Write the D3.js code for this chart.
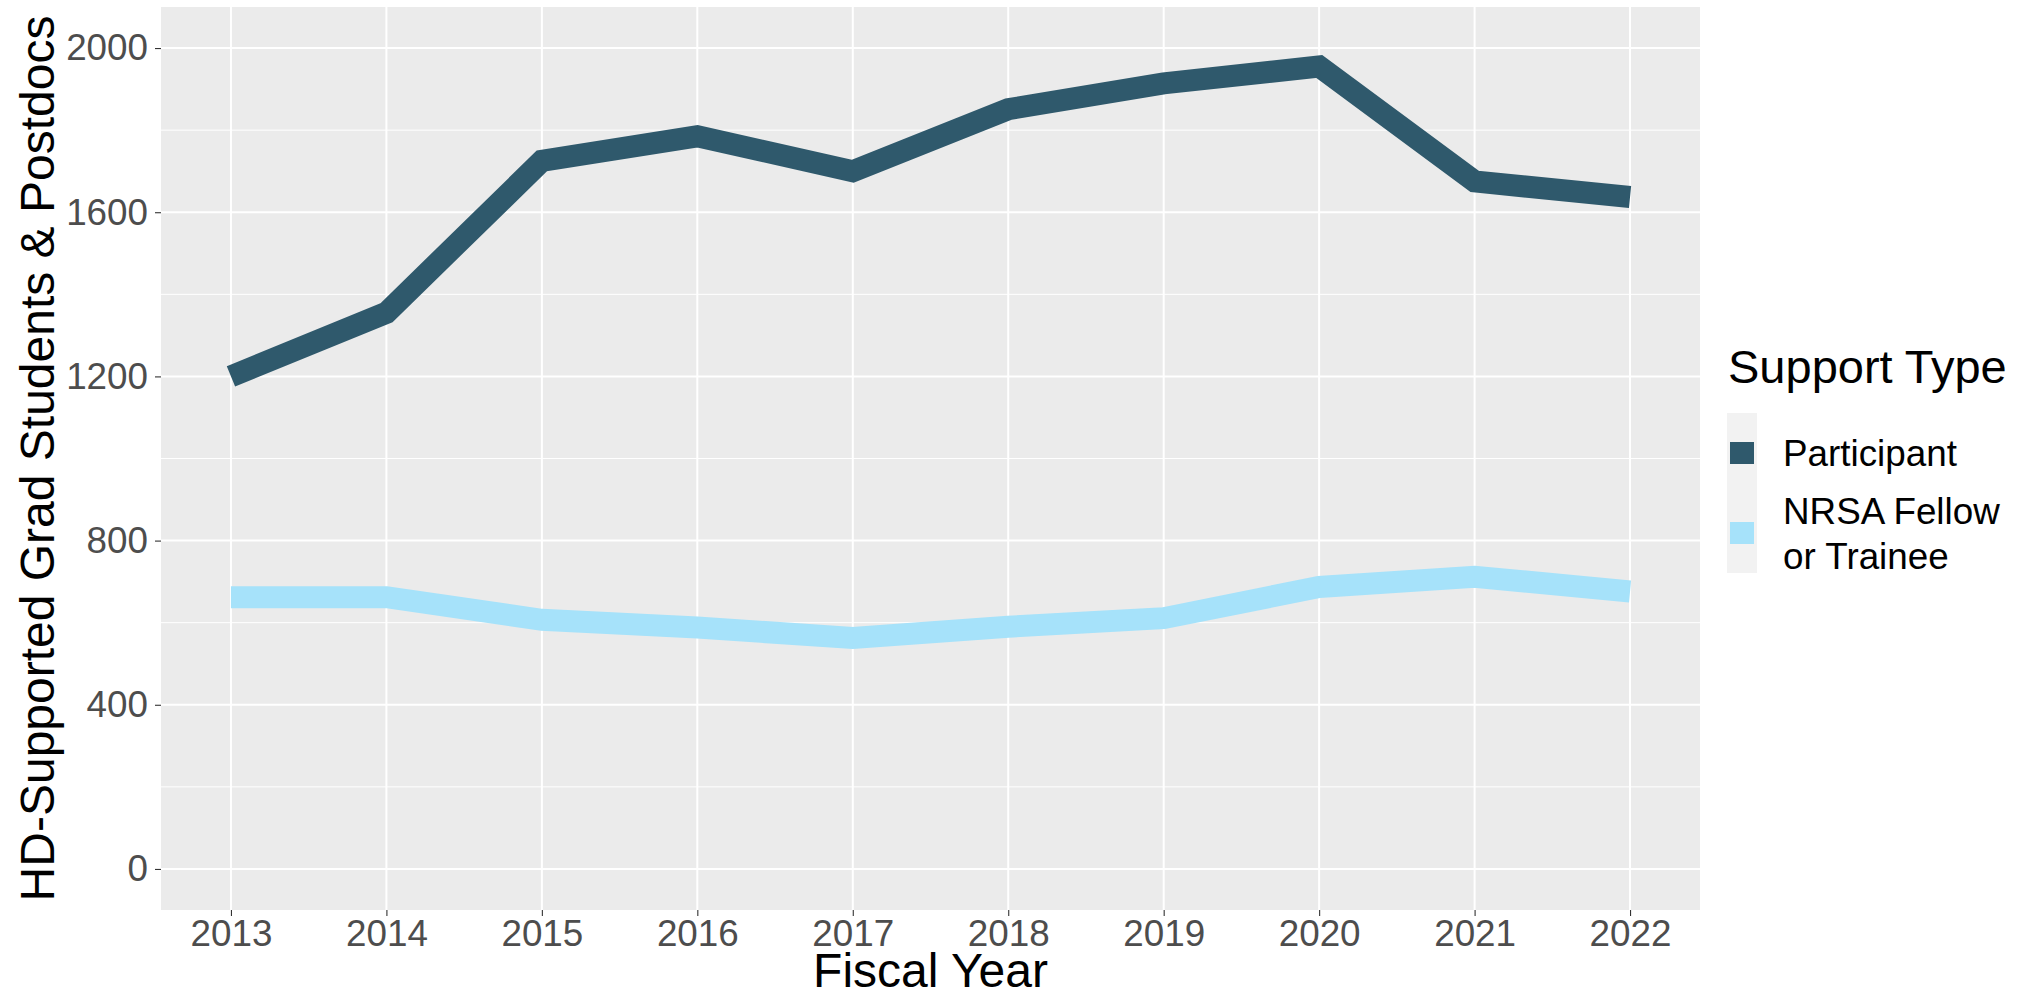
<!DOCTYPE html>
<html lang="en">
<head>
    <meta charset="UTF-8">
    <title>HD-Supported Grad Students & Postdocs</title>
    <script src="https://d3js.org/d3.v7.min.js"></script>
    <style>
        body { margin: 0; background: white; }
        text { font-family: 'Liberation Sans', Arial, sans-serif; }
        .tick text { fill: #4d4d4d; font-size: 36.8px; }
        .tick line { stroke: #333333; stroke-width: 1.1; }
        .domain { display: none; }
    </style>
</head>
<body>
<script>

    const width = 2036;
    const height = 997;

    // data
    const years = [2013, 2014, 2015, 2016, 2017, 2018, 2019, 2020, 2021, 2022];
    const participant = [1200, 1355, 1725, 1785, 1700, 1851, 1914, 1955, 1675, 1637];
    const nrsa = [662, 662, 607, 588, 563, 590, 611, 687, 712, 676];

    const yTicks = [0, 400, 800, 1200, 1600, 2000];
    const yMinor = [200, 600, 1000, 1400, 1800];

    const seriesNames = ['Participant', 'NRSA Fellow or Trainee'];
    const legendLabels = [['Participant'], ['NRSA Fellow', 'or Trainee']];
    const colors = ['#2f596c', '#a6e2fa'];

    const series = [participant, nrsa].map((vals, i) => ({
        name: seriesNames[i],
        color: colors[i],
        values: years.map((yr, j) => ({year: yr, value: vals[j]}))
    }));

    // panel box
    const panel = {left: 161, right: 1700, top: 7, bottom: 910};

    const x = d3.scaleLinear().domain([2012.55, 2022.45]).range([panel.left, panel.right]);
    const y = d3.scaleLinear().domain([-100, 2100]).range([panel.bottom, panel.top]);

    const svg = d3.select("body").append("svg").attr("width", width).attr("height", height);

    svg.append("rect")
            .attr("x", panel.left).attr("y", panel.top)
            .attr("width", panel.right - panel.left).attr("height", panel.bottom - panel.top)
            .attr("fill", "#ebebeb");

    // grid
    svg.append("g").selectAll("line")
            .data(yMinor)
            .enter().append("line")
            .attr("x1", panel.left).attr("x2", panel.right)
            .attr("y1", d => y(d)).attr("y2", d => y(d))
            .attr("stroke", "white").attr("stroke-width", 1);

    svg.append("g").selectAll("line")
            .data(yTicks)
            .enter().append("line")
            .attr("x1", panel.left).attr("x2", panel.right)
            .attr("y1", d => y(d)).attr("y2", d => y(d))
            .attr("stroke", "white").attr("stroke-width", 2);

    svg.append("g").selectAll("line")
            .data(years)
            .enter().append("line")
            .attr("y1", panel.top).attr("y2", panel.bottom)
            .attr("x1", d => x(d)).attr("x2", d => x(d))
            .attr("stroke", "white").attr("stroke-width", 2);

    // lines
    const line = d3.line().x(d => x(d.year)).y(d => y(d.value));

    svg.append("g").selectAll("path")
            .data(series)
            .enter().append("path")
            .attr("d", d => line(d.values))
            .attr("fill", "none")
            .attr("stroke", d => d.color)
            .attr("stroke-width", 22)
            .attr("stroke-linejoin", "miter")
            .attr("stroke-linecap", "butt");

    // axes
    svg.append("g")
            .attr("transform", `translate(0,${panel.bottom})`)
            .call(d3.axisBottom(x).tickValues(years).tickFormat(d3.format("d")).tickSize(6).tickPadding(4));

    svg.append("g")
            .attr("transform", `translate(${panel.left},0)`)
            .call(d3.axisLeft(y).tickValues(yTicks).tickFormat(d3.format("d")).tickSize(6).tickPadding(7));

    // axis titles
    svg.append("text")
            .attr("x", (panel.left + panel.right) / 2).attr("y", 987)
            .attr("text-anchor", "middle")
            .style("font-size", "48px")
            .text("Fiscal Year");

    svg.append("text")
            .attr("transform", `translate(54,${(panel.top + panel.bottom) / 2}) rotate(-90)`)
            .attr("text-anchor", "middle")
            .style("font-size", "48px")
            .text("HD-Supported Grad Students & Postdocs");

    // legend
    const legend = svg.append("g").attr("transform", "translate(1727,413)");

    legend.append("text")
            .attr("x", 1).attr("y", -30)
            .style("font-size", "47px")
            .text("Support Type");

    legend.append("rect")
            .attr("width", 30).attr("height", 160)
            .attr("fill", "#f2f2f2");

    const item = legend.selectAll("g.item")
            .data(series)
            .enter().append("g").attr("class", "item")
            .attr("transform", (d, i) => `translate(0,${40 + i * 80})`);

    item.append("line")
            .attr("x1", 3).attr("x2", 27)
            .attr("stroke", d => d.color)
            .attr("stroke-width", 22);

    item.append("text")
            .attr("x", 56)
            .style("font-size", "36.8px")
            .selectAll("tspan")
            .data((d, i) => legendLabels[i].map((t, k, arr) => ({t, k, n: arr.length})))
            .enter().append("tspan")
            .attr("x", 56)
            .attr("y", d => 13 + (d.k - (d.n - 1) / 2) * 45)
            .text(d => d.t);

</script>
</body>
</html>
